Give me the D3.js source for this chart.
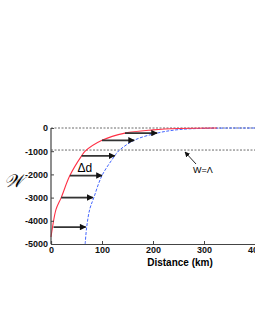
<!DOCTYPE html>
<html>
<head>
<meta charset="utf-8">
<script src="https://cdn.jsdelivr.net/npm/d3@7"></script>
<style>
  body { margin: 0; background: #fff; }
  svg { display: block; }
  .tick text { font-family: "Liberation Sans", Arial, sans-serif; font-weight: bold; font-size: 9px; fill: #111; }
</style>
</head>
<body>
<div id="chart"></div>
<script>
// Values: distance (km) and W (m)
const redDist = [0, 3, 10, 20, 37, 60, 67, 100, 145, 200, 250, 325];
const redW = [-4700, -4270, -3500, -3000, -2050, -1200, -1000, -530, -220, -80, -20, 0];
const blueDist = [67, 70, 76, 84, 100, 125, 132, 163, 208, 250, 300, 400, 500];
const blueW = [-5000, -4270, -3500, -3000, -2050, -1200, -1000, -530, -220, -70, -15, 0, 0];

// Δd arrows: from red curve to blue curve
const arrowW = [-4270, -3000, -2050, -1200, -530, -220];
const arrowFrom = [5, 20, 37, 60, 100, 145];
const arrowTo = [68, 82, 100, 125, 163, 208];

const refLevels = [0, -950]; // dashed lines, lower one is W=Λ
const xTicks = [0, 100, 200, 300, 400, 500];
const yTicks = [0, -1000, -2000, -3000, -4000, -5000];

const width = 255;
const height = 330;
const margin = { top: 128, left: 51, bottom: 86 };

const xScale = d3.scaleLinear().domain([0, 500]).range([margin.left, 306]);
const yScale = d3.scaleLinear().domain([0, -5000]).range([margin.top, height - margin.bottom]);

const svg = d3.select('#chart').append('svg')
  .attr('width', width)
  .attr('height', height);

// arrowhead markers
const defs = svg.append('defs');
defs.append('marker')
  .attr('id', 'head')
  .attr('viewBox', '0 0 10 10')
  .attr('refX', 9).attr('refY', 5)
  .attr('markerWidth', 4).attr('markerHeight', 3.6)
  .attr('markerUnits', 'strokeWidth')
  .attr('orient', 'auto')
  .append('path')
  .attr('d', 'M0,0 L10,5 L0,10 Z')
  .attr('fill', '#111');

defs.append('marker')
  .attr('id', 'headThin')
  .attr('viewBox', '0 0 10 10')
  .attr('refX', 9).attr('refY', 5)
  .attr('markerWidth', 6).attr('markerHeight', 6)
  .attr('markerUnits', 'strokeWidth')
  .attr('orient', 'auto')
  .append('path')
  .attr('d', 'M0,0 L10,5 L0,10 Z')
  .attr('fill', '#111');

// dashed reference lines
svg.append('g').selectAll('line')
  .data(refLevels)
  .join('line')
  .attr('x1', xScale(0)).attr('x2', xScale(500))
  .attr('y1', (d) => yScale(d)).attr('y2', (d) => yScale(d))
  .attr('stroke', '#444')
  .attr('stroke-width', 0.8)
  .attr('stroke-dasharray', '2,1.5');

// curves
const line = d3.line()
  .x((d) => xScale(d[0]))
  .y((d) => yScale(d[1]))
  .curve(d3.curveCatmullRom);

svg.append('path')
  .datum(blueDist.map((d, i) => [d, blueW[i]]))
  .attr('d', line)
  .attr('fill', 'none')
  .attr('stroke', '#4466ff')
  .attr('stroke-width', 1)
  .attr('stroke-dasharray', '3,1.5');

svg.append('path')
  .datum(redDist.map((d, i) => [d, redW[i]]))
  .attr('d', line)
  .attr('fill', 'none')
  .attr('stroke', '#ff3045')
  .attr('stroke-width', 1.1);

// Δd arrows
svg.append('g').selectAll('line')
  .data(arrowW)
  .join('line')
  .attr('x1', (d, i) => xScale(arrowFrom[i]))
  .attr('x2', (d, i) => xScale(arrowTo[i]))
  .attr('y1', (d) => yScale(d))
  .attr('y2', (d) => yScale(d))
  .attr('stroke', '#333')
  .attr('stroke-width', 1.8)
  .attr('marker-end', 'url(#head)');

// axes
const xAxis = d3.axisBottom(xScale).tickValues(xTicks).tickSize(-3).tickPadding(4)
  .tickFormat((d) => String(d));
const yAxis = d3.axisLeft(yScale).tickValues(yTicks).tickSize(-3).tickPadding(3)
  .tickFormat((d) => String(d));

const gx = svg.append('g')
  .attr('transform', `translate(0, ${yScale(-5000)})`)
  .call(xAxis);
gx.selectAll('.tick text').attr('dy', '0.55em');

const gy = svg.append('g')
  .attr('transform', `translate(${xScale(0)}, 0)`)
  .call(yAxis);

[gx, gy].forEach((g) => {
  g.select('.domain').attr('stroke', '#444').attr('stroke-width', 1.2);
  g.selectAll('.tick line').attr('stroke', '#444');
});
gy.select('.domain').attr('d', `M0,${yScale(0)}V${yScale(-5000)}`);

// labels
svg.append('text')
  .attr('x', 180).attr('y', 266)
  .attr('text-anchor', 'middle')
  .style('font-family', '"Liberation Sans", Arial, sans-serif')
  .style('font-weight', 'bold')
  .style('font-size', '10px')
  .text('Distance (km)');

svg.append('text')
  .attr('x', 4).attr('y', 187)
  .style('font-family', '"DejaVu Serif", serif')
  .style('font-style', 'italic')
  .style('font-size', '18px')
  .text('𝒲');

svg.append('text')
  .attr('x', xScale(52)).attr('y', 172)
  .style('font-family', '"Liberation Sans", Arial, sans-serif')
  .style('font-size', '12px')
  .text('Δd');

// W=Λ annotation
svg.append('line')
  .attr('x1', 196).attr('y1', 164)
  .attr('x2', 185).attr('y2', 152)
  .attr('stroke', '#111')
  .attr('stroke-width', 0.9)
  .attr('marker-end', 'url(#headThin)');

svg.append('text')
  .attr('x', 193).attr('y', 173)
  .style('font-family', '"Liberation Sans", Arial, sans-serif')
  .style('font-size', '9px')
  .text('W=Λ');
</script>
</body>
</html>
